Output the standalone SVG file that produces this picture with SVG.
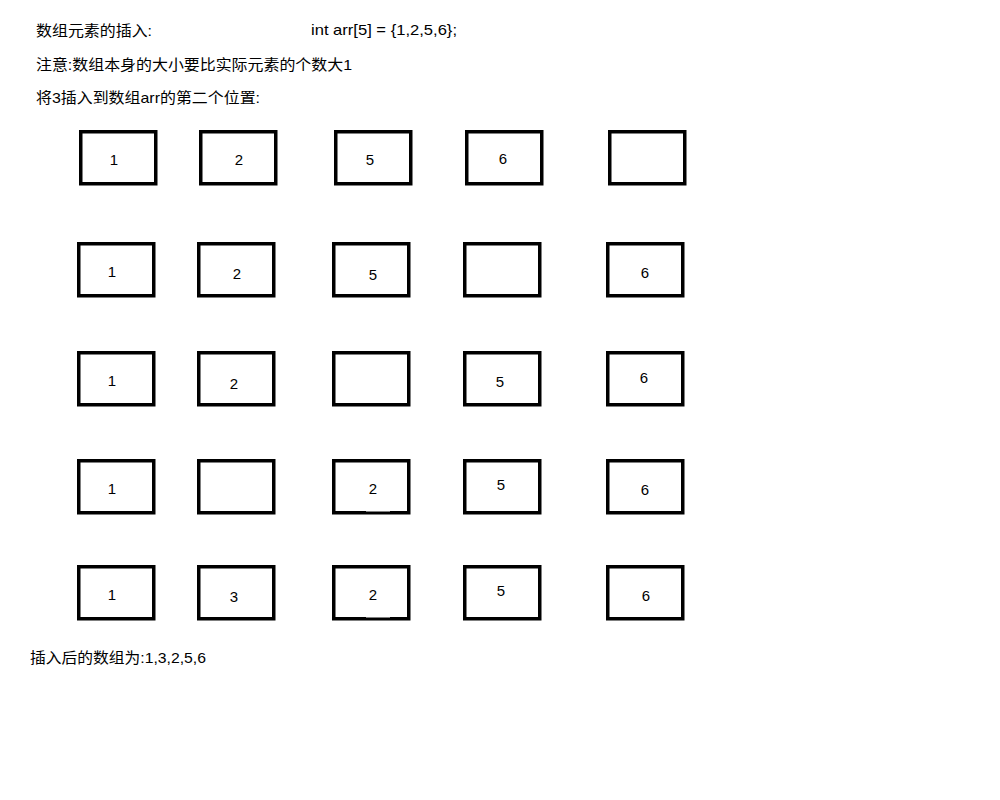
<svg xmlns="http://www.w3.org/2000/svg" width="1000" height="800" viewBox="0 0 1000 800">
<style>
.t{font-family:"Liberation Sans","Noto Sans CJK SC",sans-serif;font-size:15px;fill:#000}
.n{font-family:"Liberation Sans",sans-serif;font-size:15px;fill:#000;text-anchor:middle;dominant-baseline:central}
.b{fill:#fff;stroke:#000;stroke-width:3.5}
.g{fill:#fff}
</style>
<rect width="1000" height="800" fill="#fff"/>
<g id="texts">
<text class="t" x="36" y="36" textLength="116" lengthAdjust="spacingAndGlyphs">数组元素的插入:</text>
<text class="t" x="311" y="35" textLength="146" lengthAdjust="spacingAndGlyphs">int arr[5] = {1,2,5,6};</text>
<text class="t" x="36" y="70" textLength="316" lengthAdjust="spacingAndGlyphs">注意:数组本身的大小要比实际元素的个数大1</text>
<text class="t" x="36" y="103" textLength="224" lengthAdjust="spacingAndGlyphs">将3插入到数组arr的第二个位置:</text>
<text class="t" x="30" y="663" textLength="176" lengthAdjust="spacingAndGlyphs">插入后的数组为:1,3,2,5,6</text>
</g>
<g id="row1">
<g id="r1c1"><rect class="b" x="80.75" y="131.75" width="75" height="52"/><text class="n" x="114" y="159">1</text></g>
<g id="r1c2"><rect class="b" x="200.75" y="131.75" width="75" height="52"/><text class="n" x="239" y="159">2</text></g>
<g id="r1c3"><rect class="b" x="335.75" y="131.75" width="75" height="52"/><text class="n" x="370" y="159">5</text></g>
<g id="r1c4"><rect class="b" x="466.75" y="131.75" width="75" height="52"/><text class="n" x="503" y="158">6</text></g>
<g id="r1c5"><rect class="b" x="609.75" y="131.75" width="75" height="52"/></g>
</g>
<g id="row2">
<g id="r2c1"><rect class="b" x="78.75" y="243.75" width="75" height="52"/><text class="n" x="112" y="271">1</text></g>
<g id="r2c2"><rect class="b" x="198.75" y="243.75" width="75" height="52"/><text class="n" x="237" y="273">2</text></g>
<g id="r2c3"><rect class="b" x="333.75" y="243.75" width="75" height="52"/><text class="n" x="373" y="274">5</text></g>
<g id="r2c4"><rect class="b" x="464.75" y="243.75" width="75" height="52"/></g>
<g id="r2c5"><rect class="b" x="607.75" y="243.75" width="75" height="52"/><text class="n" x="645" y="272">6</text></g>
</g>
<g id="row3">
<g id="r3c1"><rect class="b" x="78.75" y="352.75" width="75" height="52"/><text class="n" x="112" y="380">1</text></g>
<g id="r3c2"><rect class="b" x="198.75" y="352.75" width="75" height="52"/><text class="n" x="234" y="383">2</text></g>
<g id="r3c3"><rect class="b" x="333.75" y="352.75" width="75" height="52"/></g>
<g id="r3c4"><rect class="b" x="464.75" y="352.75" width="75" height="52"/><text class="n" x="500" y="381">5</text></g>
<g id="r3c5"><rect class="b" x="607.75" y="352.75" width="75" height="52"/><text class="n" x="644" y="377">6</text></g>
</g>
<g id="row4">
<g id="r4c1"><rect class="b" x="78.75" y="460.75" width="75" height="52"/><text class="n" x="112" y="488">1</text></g>
<g id="r4c2"><rect class="b" x="198.75" y="460.75" width="75" height="52"/></g>
<g id="r4c3"><rect class="b" x="333.75" y="460.75" width="75" height="52"/><rect class="g" x="366" y="510" width="24" height="1.5"/><text class="n" x="373" y="488">2</text></g>
<g id="r4c4"><rect class="b" x="464.75" y="460.75" width="75" height="52"/><text class="n" x="501" y="484">5</text></g>
<g id="r4c5"><rect class="b" x="607.75" y="460.75" width="75" height="52"/><text class="n" x="645" y="489">6</text></g>
</g>
<g id="row5">
<g id="r5c1"><rect class="b" x="78.75" y="566.75" width="75" height="52"/><text class="n" x="112" y="594">1</text></g>
<g id="r5c2"><rect class="b" x="198.75" y="566.75" width="75" height="52"/><text class="n" x="234" y="596">3</text></g>
<g id="r5c3"><rect class="b" x="333.75" y="566.75" width="75" height="52"/><rect class="g" x="366" y="616" width="24" height="1.5"/><text class="n" x="373" y="594">2</text></g>
<g id="r5c4"><rect class="b" x="464.75" y="566.75" width="75" height="52"/><text class="n" x="501" y="590">5</text></g>
<g id="r5c5"><rect class="b" x="607.75" y="566.75" width="75" height="52"/><text class="n" x="646" y="595">6</text></g>
</g>
<g id="connectors"></g>
</svg>
